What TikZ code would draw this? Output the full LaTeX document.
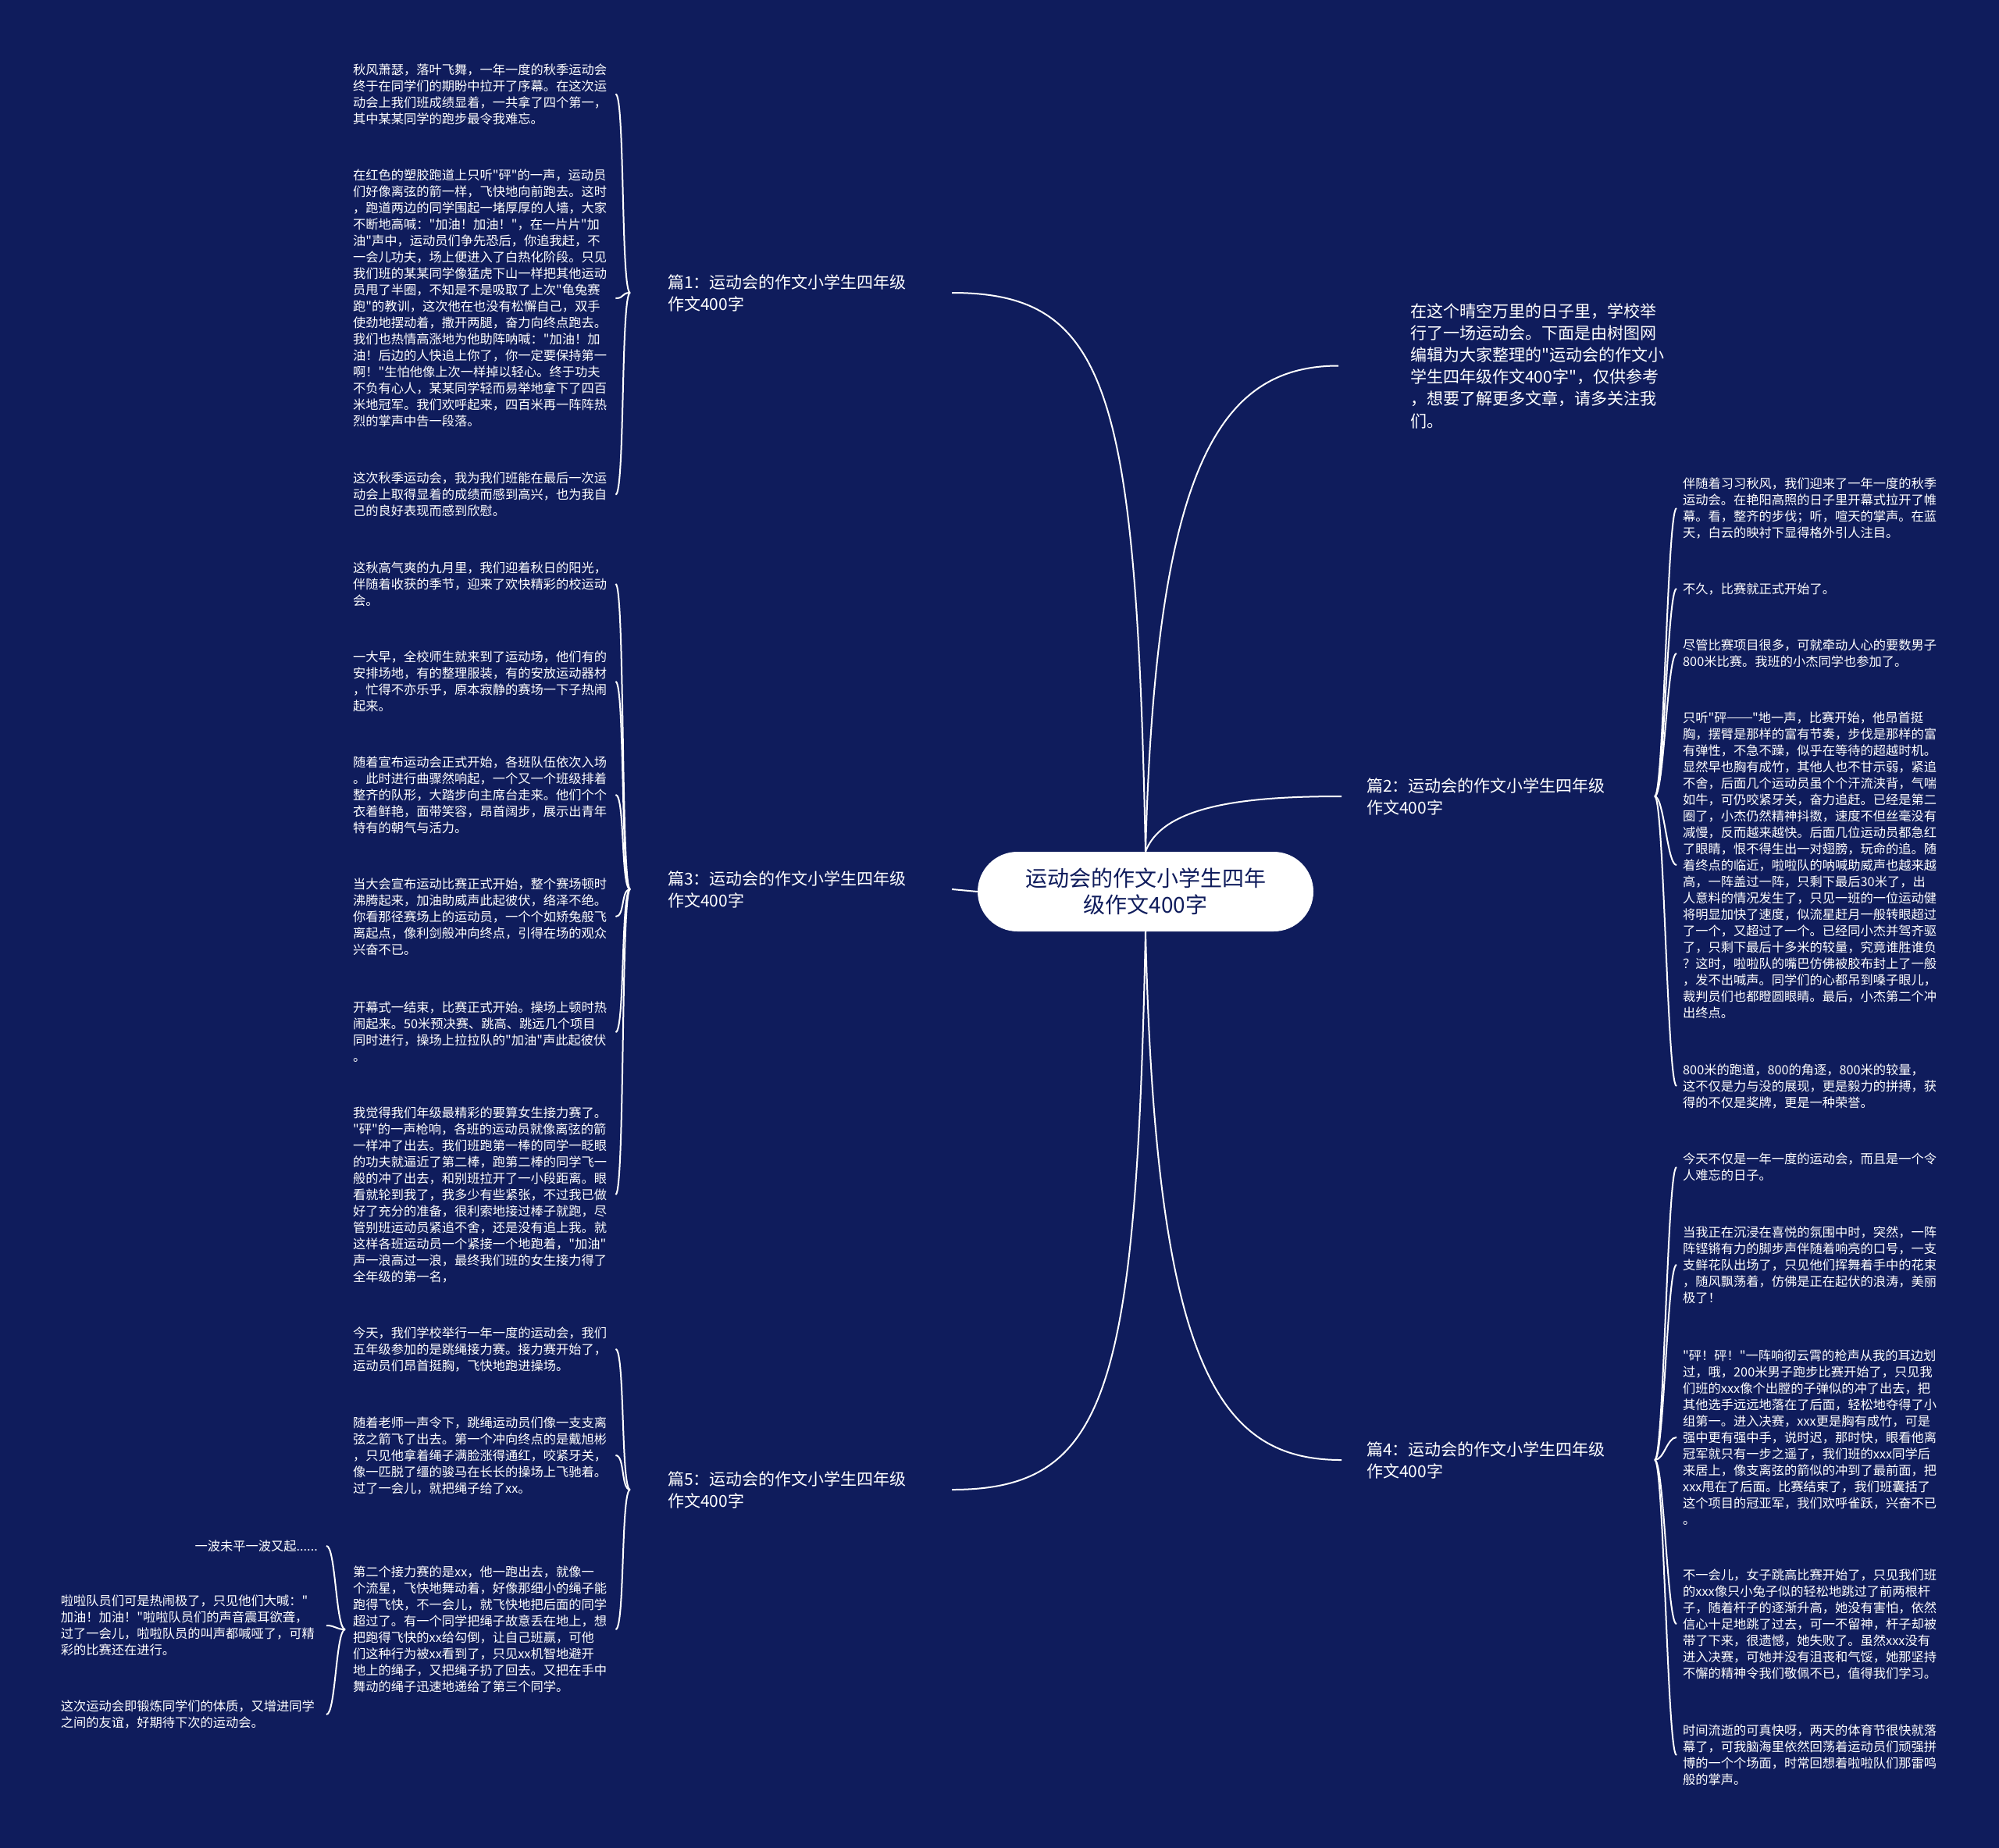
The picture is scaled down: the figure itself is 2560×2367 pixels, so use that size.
\documentclass[tikz,border=0pt]{standalone}
\usepackage{fontspec}
\newfontfamily\cjk{Noto Sans CJK SC}
\newcommand{\myleaf}{\cjk\fontsize{16.25pt}{21pt}\selectfont}
\newcommand{\mytopic}{\cjk\fontsize{21pt}{28pt}\selectfont}
\newcommand{\myroot}{\cjk\fontsize{28pt}{34pt}\selectfont}
\newcommand{\mydash}{\raisebox{0.34em}{\rule{2em}{0.07em}}}
\definecolor{bg}{RGB}{15,28,92}
\begin{document}
\begin{tikzpicture}[x=1pt,y=-1pt,
  leafL/.style={font=\myleaf, text=white, align=left, inner sep=0pt, anchor=west, text width=336pt},
  leafR/.style={font=\myleaf, text=white, align=left, inner sep=0pt, anchor=west},
  leafLL/.style={font=\myleaf, text=white, align=left, inner sep=0pt, anchor=east, text width=329pt},
  topic/.style={font=\mytopic, text=white, align=left, inner sep=0pt, anchor=west},
  rootbox/.style={fill=white, rounded corners=51pt, minimum width=430pt, minimum height=102pt, align=center, text=bg, font=\myroot, inner sep=0pt},
  conn/.style={draw=white, line width=2pt}]
\useasboundingbox (0,0) rectangle (2560,2367);
\fill[bg] (0,0) rectangle (2560,2367);

% root
\node[rootbox] (root) at (1467,1142) {运动会的作文小学生四年\\级作文400字};

% topics
\node[topic] (lab1) at (855,375) {篇1：运动会的作文小学生四年级\\作文400字};
\node[topic] (lab3) at (855,1139) {篇3：运动会的作文小学生四年级\\作文400字};
\node[topic] (lab5) at (855,1908) {篇5：运动会的作文小学生四年级\\作文400字};
\node[topic] (lab2) at (1750,1020) {篇2：运动会的作文小学生四年级\\作文400字};
\node[topic] (lab4) at (1750,1870) {篇4：运动会的作文小学生四年级\\作文400字};
\node[topic, font=\cjk\fontsize{21pt}{28.2pt}\selectfont] (intro) at (1806,468.5) {在这个晴空万里的日子里，学校举\\行了一场运动会。下面是由树图网\\编辑为大家整理的"运动会的作文小\\学生四年级作文400字"，仅供参考\\，想要了解更多文章，请多关注我\\们。};

% main connectors
\draw[conn] (root.north) .. controls (1455,500) and (1420,375) .. ([xshift=58pt]lab1.east);
\draw[conn] (root.west) -- ([xshift=58pt]lab3.east);
\draw[conn] (root.south) .. controls (1455,1780) and (1420,1908) .. ([xshift=58pt]lab5.east);
\draw[conn] (root.north) .. controls (1480,600) and (1560,468.5) .. ([xshift=-92pt]intro.west);
\draw[conn] (root.north) .. controls (1490,1030) and (1600,1020) .. ([xshift=-32pt]lab2.west);
\draw[conn] (root.south) .. controls (1480,1750) and (1560,1870) .. ([xshift=-32pt]lab4.west);

% ---------- 篇1 leaves
\node[leafL] (a1) at (452,120.5) {秋风萧瑟，落叶飞舞，一年一度的秋季运动会\\终于在同学们的期盼中拉开了序幕。在这次运\\动会上我们班成绩显着，一共拿了四个第一，\\其中某某同学的跑步最令我难忘。};
\node[leafL] (a2) at (452,382) {在红色的塑胶跑道上只听"砰"的一声，运动员\\们好像离弦的箭一样，飞快地向前跑去。这时\\，跑道两边的同学围起一堵厚厚的人墙，大家\\不断地高喊："加油！加油！"，在一片片"加\\油"声中，运动员们争先恐后，你追我赶，不\\一会儿功夫，场上便进入了白热化阶段。只见\\我们班的某某同学像猛虎下山一样把其他运动\\员甩了半圈，不知是不是吸取了上次"龟兔赛\\跑"的教训，这次他在也没有松懈自己，双手\\使劲地摆动着，撒开两腿，奋力向终点跑去。\\我们也热情高涨地为他助阵呐喊："加油！加\\油！后边的人快追上你了，你一定要保持第一\\啊！"生怕他像上次一样掉以轻心。终于功夫\\不负有心人，某某同学轻而易举地拿下了四百\\米地冠军。我们欢呼起来，四百米再一阵阵热\\烈的掌声中告一段落。};
\node[leafL] (a3) at (452,633.5) {这次秋季运动会，我为我们班能在最后一次运\\动会上取得显着的成绩而感到高兴，也为我自\\己的良好表现而感到欣慰。};
\foreach \n in {a1,a2,a3}
  \draw[conn] (\n.east) .. controls +(12,0) and +(-12,0) .. ([xshift=-48pt]lab1.west);

% ---------- 篇3 leaves
\node[leafL] (d1) at (452,748) {这秋高气爽的九月里，我们迎着秋日的阳光，\\伴随着收获的季节，迎来了欢快精彩的校运动\\会。};
\node[leafL] (d2) at (452,873) {一大早，全校师生就来到了运动场，他们有的\\安排场地，有的整理服装，有的安放运动器材\\，忙得不亦乐乎，原本寂静的赛场一下子热闹\\起来。};
\node[leafL] (d3) at (452,1018) {随着宣布运动会正式开始，各班队伍依次入场\\。此时进行曲骤然响起，一个又一个班级排着\\整齐的队形，大踏步向主席台走来。他们个个\\衣着鲜艳，面带笑容，昂首阔步，展示出青年\\特有的朝气与活力。};
\node[leafL] (d4) at (452,1174) {当大会宣布运动比赛正式开始，整个赛场顿时\\沸腾起来，加油助威声此起彼伏，络泽不绝。\\你看那径赛场上的运动员，一个个如矫兔般飞\\离起点，像利剑般冲向终点，引得在场的观众\\兴奋不已。};
\node[leafL] (d5) at (452,1322) {开幕式一结束，比赛正式开始。操场上顿时热\\闹起来。50米预决赛、跳高、跳远几个项目\\同时进行，操场上拉拉队的"加油"声此起彼伏\\。};
\node[leafL] (d6) at (452,1530) {我觉得我们年级最精彩的要算女生接力赛了。\\"砰"的一声枪响，各班的运动员就像离弦的箭\\一样冲了出去。我们班跑第一棒的同学一眨眼\\的功夫就逼近了第二棒，跑第二棒的同学飞一\\般的冲了出去，和别班拉开了一小段距离。眼\\看就轮到我了，我多少有些紧张，不过我已做\\好了充分的准备，很利索地接过棒子就跑，尽\\管别班运动员紧追不舍，还是没有追上我。就\\这样各班运动员一个紧接一个地跑着，"加油"\\声一浪高过一浪，最终我们班的女生接力得了\\全年级的第一名，};
\foreach \n in {d1,d2,d3,d4,d5,d6}
  \draw[conn] (\n.east) .. controls +(12,0) and +(-12,0) .. ([xshift=-48pt]lab3.west);

% ---------- 篇5 leaves
\node[leafL] (e1) at (452,1728) {今天，我们学校举行一年一度的运动会，我们\\五年级参加的是跳绳接力赛。接力赛开始了，\\运动员们昂首挺胸，飞快地跑进操场。};
\node[leafL] (e2) at (452,1864) {随着老师一声令下，跳绳运动员们像一支支离\\弦之箭飞了出去。第一个冲向终点的是戴旭彬\\，只见他拿着绳子满脸涨得通红，咬紧牙关，\\像一匹脱了缰的骏马在长长的操场上飞驰着。\\过了一会儿，就把绳子给了xx。};
\node[leafL] (e3) at (452,2087) {第二个接力赛的是xx，他一跑出去，就像一\\个流星，飞快地舞动着，好像那细小的绳子能\\跑得飞快，不一会儿，就飞快地把后面的同学\\超过了。有一个同学把绳子故意丢在地上，想\\把跑得飞快的xx给勾倒，让自己班赢，可他\\们这种行为被xx看到了，只见xx机智地避开\\地上的绳子，又把绳子扔了回去。又把在手中\\舞动的绳子迅速地递给了第三个同学。};
\foreach \n in {e1,e2,e3}
  \draw[conn] (\n.east) .. controls +(12,0) and +(-12,0) .. ([xshift=-48pt]lab5.west);

% ---------- children of e3
\node[font=\myleaf, text=white, inner sep=0pt, anchor=east] (f1) at (407,1980) {一波未平一波又起......};
\node[leafLL] (f2) at (407,2082) {啦啦队员们可是热闹极了，只见他们大喊："\\加油！加油！"啦啦队员们的声音震耳欲聋，\\过了一会儿，啦啦队员的叫声都喊哑了，可精\\彩的比赛还在进行。};
\node[leafLL] (f3) at (407,2196) {这次运动会即锻炼同学们的体质，又增进同学\\之间的友谊，好期待下次的运动会。};
\foreach \n in {f1,f2,f3}
  \draw[conn] ([xshift=11pt]\n.east) .. controls +(12,0) and +(-12,0) .. ([xshift=-10pt]e3.west);

% ---------- 篇2 leaves
\node[leafR] (g1) at (2155,651) {伴随着习习秋风，我们迎来了一年一度的秋季\\运动会。在艳阳高照的日子里开幕式拉开了帷\\幕。看，整齐的步伐；听，喧天的掌声。在蓝\\天，白云的映衬下显得格外引人注目。};
\node[leafR] (g2) at (2155,754) {不久，比赛就正式开始了。};
\node[leafR] (g3) at (2155,837) {尽管比赛项目很多，可就牵动人心的要数男子\\800米比赛。我班的小杰同学也参加了。};
\node[leafR] (g4) at (2155,1108) {只听"砰\mydash"地一声，比赛开始，他昂首挺\\胸，摆臂是那样的富有节奏，步伐是那样的富\\有弹性，不急不躁，似乎在等待的超越时机。\\显然早也胸有成竹，其他人也不甘示弱，紧追\\不舍，后面几个运动员虽个个汗流浃背，气喘\\如牛，可仍咬紧牙关，奋力追赶。已经是第二\\圈了，小杰仍然精神抖擞，速度不但丝毫没有\\减慢，反而越来越快。后面几位运动员都急红\\了眼睛，恨不得生出一对翅膀，玩命的追。随\\着终点的临近，啦啦队的呐喊助威声也越来越\\高，一阵盖过一阵，只剩下最后30米了，出\\人意料的情况发生了，只见一班的一位运动健\\将明显加快了速度，似流星赶月一般转眼超过\\了一个，又超过了一个。已经同小杰并驾齐驱\\了，只剩下最后十多米的较量，究竟谁胜谁负\\？这时，啦啦队的嘴巴仿佛被胶布封上了一般\\，发不出喊声。同学们的心都吊到嗓子眼儿，\\裁判员们也都瞪圆眼睛。最后，小杰第二个冲\\出终点。};
\node[leafR] (g5) at (2155,1391) {800米的跑道，800的角逐，800米的较量，\\这不仅是力与没的展现，更是毅力的拼搏，获\\得的不仅是奖牌，更是一种荣誉。};
\foreach \n in {g1,g2,g3,g4,g5}
  \draw[conn] ([xshift=63pt]lab2.east) .. controls +(12,0) and +(-12,0) .. ([xshift=-8pt]\n.west);

% ---------- 篇4 leaves
\node[leafR] (h1) at (2155,1495) {今天不仅是一年一度的运动会，而且是一个令\\人难忘的日子。};
\node[leafR] (h2) at (2155,1620) {当我正在沉浸在喜悦的氛围中时，突然，一阵\\阵铿锵有力的脚步声伴随着响亮的口号，一支\\支鲜花队出场了，只见他们挥舞着手中的花束\\，随风飘荡着，仿佛是正在起伏的浪涛，美丽\\极了！};
\node[leafR] (h3) at (2155,1841) {"砰！砰！"一阵响彻云霄的枪声从我的耳边划\\过，哦，200米男子跑步比赛开始了，只见我\\们班的xxx像个出膛的子弹似的冲了出去，把\\其他选手远远地落在了后面，轻松地夺得了小\\组第一。进入决赛，xxx更是胸有成竹，可是\\强中更有强中手，说时迟，那时快，眼看他离\\冠军就只有一步之遥了，我们班的xxx同学后\\来居上，像支离弦的箭似的冲到了最前面，把\\xxx甩在了后面。比赛结束了，我们班囊括了\\这个项目的冠亚军，我们欢呼雀跃，兴奋不已\\。};
\node[leafR] (h4) at (2155,2080) {不一会儿，女子跳高比赛开始了，只见我们班\\的xxx像只小兔子似的轻松地跳过了前两根杆\\子，随着杆子的逐渐升高，她没有害怕，依然\\信心十足地跳了过去，可一不留神，杆子却被\\带了下来，很遗憾，她失败了。虽然xxx没有\\进入决赛，可她并没有沮丧和气馁，她那坚持\\不懈的精神令我们敬佩不已，值得我们学习。};
\node[leafR] (h5) at (2155,2248) {时间流逝的可真快呀，两天的体育节很快就落\\幕了，可我脑海里依然回荡着运动员们顽强拼\\博的一个个场面，时常回想着啦啦队们那雷鸣\\般的掌声。};
\foreach \n in {h1,h2,h3,h4,h5}
  \draw[conn] ([xshift=63pt]lab4.east) .. controls +(12,0) and +(-12,0) .. ([xshift=-8pt]\n.west);
\end{tikzpicture}
\end{document}
